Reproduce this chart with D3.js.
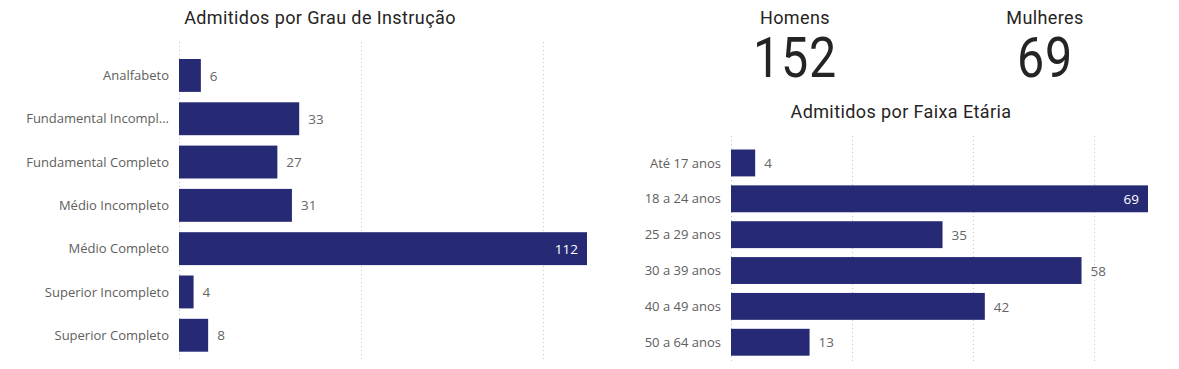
<!DOCTYPE html>
<html>
<head>
<meta charset="utf-8">
<script src="https://cdn.jsdelivr.net/npm/d3@7"></script>
<style>
  html, body { margin: 0; padding: 0; background: #ffffff; }
  svg { display: block; }
</style>
</head>
<body>
<svg id="chart" width="1179" height="369"></svg>
<script>
// ---- Data ----
const educationCategories = ["Analfabeto", "Fundamental Incompleto", "Fundamental Completo", "Médio Incompleto", "Médio Completo", "Superior Incompleto", "Superior Completo"];
const educationValues = [6, 33, 27, 31, 112, 4, 8];
const educationTicks = [0, 50, 100];

const ageCategories = ["Até 17 anos", "18 a 24 anos", "25 a 29 anos", "30 a 39 anos", "40 a 49 anos", "50 a 64 anos"];
const ageValues = [4, 69, 35, 58, 42, 13];
const ageTicks = [0, 20, 40, 60];

const cardLabels = ["Homens", "Mulheres"];
const cardValues = [152, 69];

const titles = ["Admitidos por Grau de Instrução", "Admitidos por Faixa Etária"];

// ---- Styles ----
const barColor = "#262A74";
const labelColor = "#605E5C";
const valueColor = "#666666";
const titleColor = "#252423";
const gridColor = "#C8C8C8";
const labelFont = "'Open Sans', 'Noto Sans', sans-serif";
const titleFont = "Roboto, 'DejaVu Sans', sans-serif";

const svg = d3.select("#chart");

function truncate(text, maxWidth, font) {
  const ctx = document.createElement("canvas").getContext("2d");
  ctx.font = font;
  if (ctx.measureText(text).width <= maxWidth) return text;
  let t = text;
  while (t.length > 1 && ctx.measureText(t + "...").width > maxWidth) t = t.slice(0, -1);
  return t + "...";
}

function barChart(opts) {
  const g = svg.append("g");
  const x = d3.scaleLinear().domain([0, opts.max]).range([opts.x0, opts.x1]);
  const y = d3.scaleBand().domain(opts.categories).range([opts.y0, opts.y1])
    .paddingInner(opts.padInner).paddingOuter(opts.padOuter);

  // gridlines
  g.append("g").selectAll("line").data(opts.ticks).join("line")
    .attr("x1", d => Math.round(x(d)) + 0.5).attr("x2", d => Math.round(x(d)) + 0.5)
    .attr("y1", opts.gridTop).attr("y2", opts.gridBottom)
    .attr("stroke", gridColor).attr("stroke-width", 1)
    .attr("stroke-dasharray", "1,3");

  // bars
  g.append("g").selectAll("rect").data(opts.values).join("rect")
    .attr("x", x(0))
    .attr("y", (d, i) => y(opts.categories[i]))
    .attr("width", d => x(d) - x(0))
    .attr("height", y.bandwidth())
    .attr("fill", barColor);

  // category labels
  const catSize = 13;
  const catFont = catSize + "px " + labelFont;
  g.append("g").selectAll("text").data(opts.categories).join("text")
    .attr("x", opts.x0 - 10)
    .attr("y", d => y(d) + y.bandwidth() / 2)
    .attr("dy", "0.35em")
    .attr("text-anchor", "end")
    .attr("font-family", labelFont).attr("font-size", catSize)
    .attr("fill", labelColor)
    .text(d => truncate(d, opts.labelMax, catFont));

  // value labels
  const maxV = d3.max(opts.values);
  g.append("g").selectAll("text").data(opts.values).join("text")
    .attr("x", d => d === maxV ? x(d) - 9 : x(d) + 9)
    .attr("y", (d, i) => y(opts.categories[i]) + y.bandwidth() / 2)
    .attr("dy", "0.38em")
    .attr("text-anchor", d => d === maxV ? "end" : "start")
    .attr("font-family", labelFont).attr("font-size", 13.5)
    .attr("fill", d => d === maxV ? "#ffffff" : valueColor)
    .text(d => d);
}

barChart({
  categories: educationCategories, values: educationValues, ticks: educationTicks,
  max: 112, x0: 179, x1: 587, y0: 53.8, y1: 356.9, padInner: 0.24, padOuter: 0.12,
  gridTop: 42, gridBottom: 360, labelMax: 143
});

barChart({
  categories: ageCategories, values: ageValues, ticks: ageTicks,
  max: 69, x0: 731, x1: 1148, y0: 145.2, y1: 360, padInner: 0.25, padOuter: 0.12,
  gridTop: 136, gridBottom: 362, labelMax: 143
});

// titles
svg.append("text").attr("x", 320).attr("y", 24).attr("text-anchor", "middle")
  .attr("font-family", titleFont).attr("font-size", 18).attr("fill", titleColor)
  .attr("letter-spacing", 0.4)
  .text(titles[0]);
svg.append("text").attr("x", 901).attr("y", 118).attr("text-anchor", "middle")
  .attr("font-family", titleFont).attr("font-size", 18).attr("fill", titleColor)
  .attr("letter-spacing", 0.4)
  .text(titles[1]);

// cards
const cardX = [795, 1045];
cardLabels.forEach((lab, i) => {
  svg.append("text").attr("x", cardX[i]).attr("y", 24).attr("text-anchor", "middle")
    .attr("font-family", titleFont).attr("font-size", 18).attr("fill", titleColor)
    .attr("letter-spacing", 0.4)
    .text(lab);
  svg.append("text")
    .attr("transform", `translate(${cardX[i]},77) scale(0.88,1)`)
    .attr("text-anchor", "middle")
    .attr("font-family", titleFont).attr("font-size", 55).attr("fill", titleColor)
    .attr("letter-spacing", 1)
    .text(cardValues[i]);
});
</script>
</body>
</html>
